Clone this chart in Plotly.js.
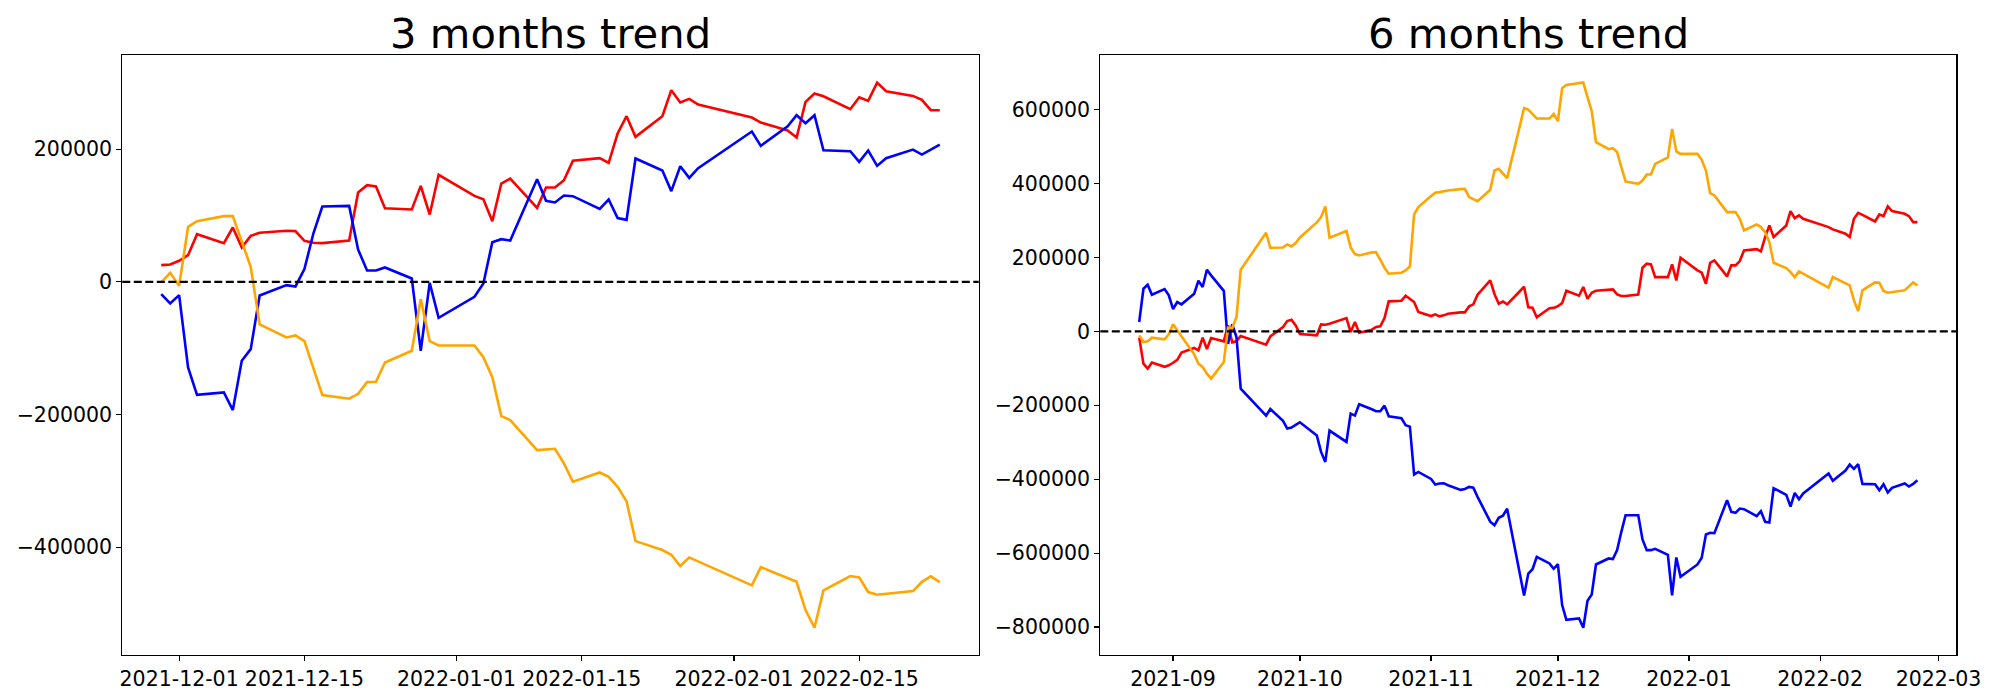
<!DOCTYPE html>
<html><head><meta charset="utf-8">
<script src="https://cdn.plot.ly/plotly-3.0.1.min.js"></script>
<style>html,body{margin:0;padding:0;background:#fff}#chart{width:2000px;height:700px}</style>
</head><body><div id="chart"></div><script>
// ---- 6 months data (Korean trading days) ----
const dates6 = [
'2021-08-24','2021-08-25','2021-08-26','2021-08-27','2021-08-30','2021-08-31',
'2021-09-01','2021-09-02','2021-09-03','2021-09-06','2021-09-07','2021-09-08','2021-09-09','2021-09-10','2021-09-13','2021-09-14','2021-09-15','2021-09-16','2021-09-17','2021-09-23','2021-09-24','2021-09-27','2021-09-28','2021-09-29','2021-09-30',
'2021-10-01','2021-10-05','2021-10-06','2021-10-07','2021-10-08','2021-10-12','2021-10-13','2021-10-14','2021-10-15','2021-10-18','2021-10-19','2021-10-20','2021-10-21','2021-10-22','2021-10-25','2021-10-26','2021-10-27','2021-10-28','2021-10-29',
'2021-11-01','2021-11-02','2021-11-03','2021-11-04','2021-11-05','2021-11-08','2021-11-09','2021-11-10','2021-11-11','2021-11-12','2021-11-15','2021-11-16','2021-11-17','2021-11-18','2021-11-19','2021-11-22','2021-11-23','2021-11-24','2021-11-25','2021-11-26','2021-11-29','2021-11-30',
'2021-12-01','2021-12-02','2021-12-03','2021-12-06','2021-12-07','2021-12-08','2021-12-09','2021-12-10','2021-12-13','2021-12-14','2021-12-15','2021-12-16','2021-12-17','2021-12-20','2021-12-21','2021-12-22','2021-12-23','2021-12-24','2021-12-27','2021-12-28','2021-12-29','2021-12-30',
'2022-01-03','2022-01-04','2022-01-05','2022-01-06','2022-01-07','2022-01-10','2022-01-11','2022-01-12','2022-01-13','2022-01-14','2022-01-17','2022-01-18','2022-01-19','2022-01-20','2022-01-21','2022-01-24','2022-01-25','2022-01-26','2022-01-27','2022-01-28',
'2022-02-03','2022-02-04','2022-02-07','2022-02-08','2022-02-09','2022-02-10','2022-02-11','2022-02-14','2022-02-15','2022-02-16','2022-02-17','2022-02-18','2022-02-21','2022-02-22','2022-02-23','2022-02-24'];

const red6 = [
-17100,-87400,-100900,-84200,-96000,-92000,
-85000,-77000,-57500,-45000,-51400,-17100,-47700,-18000,-27000,16200,-29700,-27000,-12600,-36000,-13500,11700,27900,31500,16200,
-7200,-10800,18900,18000,20700,36000,-1800,25200,-3600,4500,11700,13500,36000,81100,82900,96400,88300,79300,52300,
41400,45900,40500,43200,47700,51400,51400,68000,73000,99000,137800,101000,74800,80700,73000,108500,120700,64900,64000,38300,62500,63500,
68000,76200,110000,96400,119800,88300,104500,110000,112600,113500,100000,95500,95500,99500,172100,182900,181100,146800,146800,181100,137800,199100,
164900,158600,128800,185600,191900,148600,178400,178400,190100,218900,222500,216200,255000,286500,255000,286500,325200,306300,313500,304500,
282000,275700,264000,255000,304500,320700,315300,297300,316200,311700,337800,325200,318000,311700,295500,295500];

const blue6 = [
25200,115300,126100,99100,114400,97300,
60400,79300,73000,101800,136900,119800,166700,151400,109500,-34000,18900,-15300,-155000,-227900,-209900,-242300,-263100,-260400,-253200,
-245900,-282000,-326100,-353200,-268500,-299100,-222500,-227900,-197300,-210800,-216200,-216200,-200900,-229700,-235100,-254100,-257700,-387400,-380200,
-399100,-414400,-411700,-410800,-416200,-428800,-426500,-420700,-423000,-447700,-514800,-524700,-504500,-498600,-479700,-660000,-714400,-655400,-643600,-609900,-627900,-642300,
-629700,-740500,-780200,-776600,-801800,-728800,-711700,-630600,-614400,-616200,-591900,-542300,-497300,-497300,-563100,-591900,-591900,-588300,-604500,-714400,-611700,-664000,
-630600,-612600,-549500,-545000,-546000,-456800,-488300,-491000,-479300,-481100,-500000,-486500,-515300,-517100,-424300,-442300,-473900,-436900,-454100,-438700,
-384700,-404500,-376600,-360400,-372100,-359500,-412600,-413500,-429700,-413500,-436000,-423400,-411700,-419800,-412600,-402700];

const orange6 = [
-10800,-28800,-27000,-17100,-21600,-8100,
18900,2700,-12600,-62200,-87400,-96400,-114400,-127900,-82900,10000,9000,38700,166700,266700,226100,227000,235100,229700,238700,
254100,294600,309000,337800,253200,271200,227000,209000,205400,213500,213500,193700,172100,155900,158600,164900,175700,316200,336000,
365800,374800,376600,379300,381100,384700,385600,363100,358600,352200,382900,435100,439600,427900,414400,555900,603600,600000,588300,575700,575700,588300,
568500,657700,666700,670300,673000,633300,595500,511700,492800,495500,484700,444100,405400,399100,408100,424300,424300,453100,470300,547700,486500,480200,
480200,464000,435100,373900,367600,322500,322500,322500,304500,273000,289200,282000,268500,241400,185600,171200,160400,146800,162200,155900,
118000,146800,130600,124300,83800,55000,110800,132400,131500,109000,104500,106300,110800,121600,132400,124300];

// ---- 3 months data ----
const dates3 = [
'2021-11-29','2021-11-30',
'2021-12-01','2021-12-02','2021-12-03','2021-12-06','2021-12-07','2021-12-08','2021-12-09','2021-12-10','2021-12-13','2021-12-14','2021-12-15','2021-12-16','2021-12-17','2021-12-20','2021-12-21','2021-12-22','2021-12-23','2021-12-24','2021-12-27','2021-12-28','2021-12-29','2021-12-30',
'2022-01-03','2022-01-04','2022-01-05','2022-01-06','2022-01-07','2022-01-10','2022-01-11','2022-01-12','2022-01-13','2022-01-14','2022-01-17','2022-01-18','2022-01-19','2022-01-20','2022-01-21','2022-01-24','2022-01-25','2022-01-26','2022-01-27','2022-01-28',
'2022-02-03','2022-02-04','2022-02-07','2022-02-08','2022-02-09','2022-02-10','2022-02-11','2022-02-14','2022-02-15','2022-02-16','2022-02-17','2022-02-18','2022-02-21','2022-02-22','2022-02-23','2022-02-24'];

const red3 = [
25100,26100,
31700,40200,71800,58300,81900,51700,69300,73900,76900,76400,61800,58800,58300,62300,134600,145700,143700,111000,109000,144700,101500,161300,
129600,124600,91400,148200,155700,111500,142200,142200,153200,182400,186400,179400,223600,249700,218500,249700,288900,270300,275800,267300,
247700,240100,228100,217500,271300,283900,279800,260200,278300,272800,300400,287400,280300,274300,258700,258700];

const blue3 = [
-18600,-32700,
-20100,-129100,-170300,-166800,-193400,-119100,-101500,-20600,-5000,-7000,19100,72800,113500,114500,48700,17100,17100,21600,5000,-104000,-1500,-54300,
-22600,-2500,59800,64300,62300,154700,122100,119600,130100,129100,110000,124100,96000,93400,185900,167800,136700,174300,156700,171300,
226600,205000,234600,251200,239100,251200,198400,196900,180900,197900,174800,186400,199400,191900,199400,207000];

const orange3 = [
-1000,13600,
-6000,82900,91400,99000,99000,60300,22600,-64300,-83900,-80900,-89400,-130100,-170800,-176300,-168800,-151200,-150700,-121600,-104000,-26100,-89400,-96000,
-96000,-113500,-143700,-202500,-208500,-253700,-252700,-251700,-273800,-301400,-287400,-293900,-309000,-331100,-390900,-404400,-411500,-428500,-415500,-421500,
-457700,-430100,-446600,-452200,-494900,-521500,-465200,-443600,-445600,-467700,-471700,-470200,-466200,-452200,-444100,-452700];

const ticks3 = ['2021-12-01','2021-12-15','2022-01-01','2022-01-15','2022-02-01','2022-02-15'];
const ticks6 = ['2021-09','2021-10','2021-11','2021-12','2022-01','2022-02','2022-03'];
const titles = ['3 months trend','6 months trend'];
const colors = {red:'#ff0000', blue:'#0000ff', orange:'#ffa500'};

// matplotlib-like 5% margins
function yRange(arrs){
  const all=[].concat(...arrs); const mn=Math.min(...all), mx=Math.max(...all); const p=(mx-mn)*0.05;
  return [mn-p, mx+p];
}
function xRange(d){
  const a=new Date(d[0]+'T00:00:00Z').getTime(), b=new Date(d[d.length-1]+'T00:00:00Z').getTime(); const p=(b-a)*0.05;
  const f=t=>new Date(t).toISOString().replace('T',' ').slice(0,19);
  return [f(a-p), f(b+p)];
}

const lw = 2.6;
function tr(x,y,c,xa,ya,name){return {x:x,y:y,type:'scatter',mode:'lines',name:name,line:{color:c,width:lw},xaxis:xa,yaxis:ya,showlegend:false,hoverinfo:'skip'};}
const data = [
  tr(dates3,red3,colors.red,'x','y','red'),
  tr(dates3,blue3,colors.blue,'x','y','blue'),
  tr(dates3,orange3,colors.orange,'x','y','orange'),
  tr(dates6,red6,colors.red,'x2','y2','red'),
  tr(dates6,blue6,colors.blue,'x2','y2','blue'),
  tr(dates6,orange6,colors.orange,'x2','y2','orange')
];

const font = {family:'DejaVu Sans, sans-serif', size:20.5, color:'#000'};
const axBase = {showline:true, mirror:true, linecolor:'#000', linewidth:1.2, ticks:'outside', ticklen:4.9, tickwidth:1.2, tickcolor:'#000', showgrid:false, zeroline:false, tickfont:font};
const yd = [45/700, 644.7/700];
const xd1 = [122.3/2000, 978.7/2000], xd2 = [1100.3/2000, 1956.3/2000];

const layout = {
  width:2000, height:700, margin:{l:0,r:0,t:0,b:0}, paper_bgcolor:'#fff', plot_bgcolor:'#fff', font:font, showlegend:false,
  xaxis: Object.assign({}, axBase, {domain:xd1, anchor:'y', type:'date', range:xRange(dates3), tickvals:ticks3, ticktext:ticks3}),
  yaxis: Object.assign({}, axBase, {domain:yd, anchor:'x', range:yRange([red3,blue3,orange3]), dtick:200000, tick0:0, tickformat:'d'}),
  xaxis2: Object.assign({}, axBase, {domain:xd2, anchor:'y2', type:'date', range:xRange(dates6), tickvals:ticks6.map(t=>t+'-01'), ticktext:ticks6}),
  yaxis2: Object.assign({}, axBase, {domain:yd, anchor:'x2', range:yRange([red6,blue6,orange6]), dtick:200000, tick0:0, tickformat:'d'}),
  shapes: [
    {type:'line', xref:'x domain', yref:'y', x0:0, x1:1, y0:0, y1:0, line:{color:'#000', width:2.3, dash:'8px,3.5px'}, layer:'above'},
    {type:'line', xref:'x2 domain', yref:'y2', x0:0, x1:1, y0:0, y1:0, line:{color:'#000', width:2.3, dash:'8px,3.5px'}, layer:'above'}
  ],
  annotations: [
    {text:titles[0], xref:'paper', yref:'paper', x:(xd1[0]+xd1[1])/2, y:(700-33)/700, xanchor:'center', yanchor:'middle', showarrow:false, font:{family:font.family, size:41.7, color:'#000'}},
    {text:titles[1], xref:'paper', yref:'paper', x:(xd2[0]+xd2[1])/2, y:(700-33)/700, xanchor:'center', yanchor:'middle', showarrow:false, font:{family:font.family, size:41.7, color:'#000'}}
  ]
};
Plotly.newPlot('chart', data, layout, {staticPlot:true, displayModeBar:false});
</script></body></html>
